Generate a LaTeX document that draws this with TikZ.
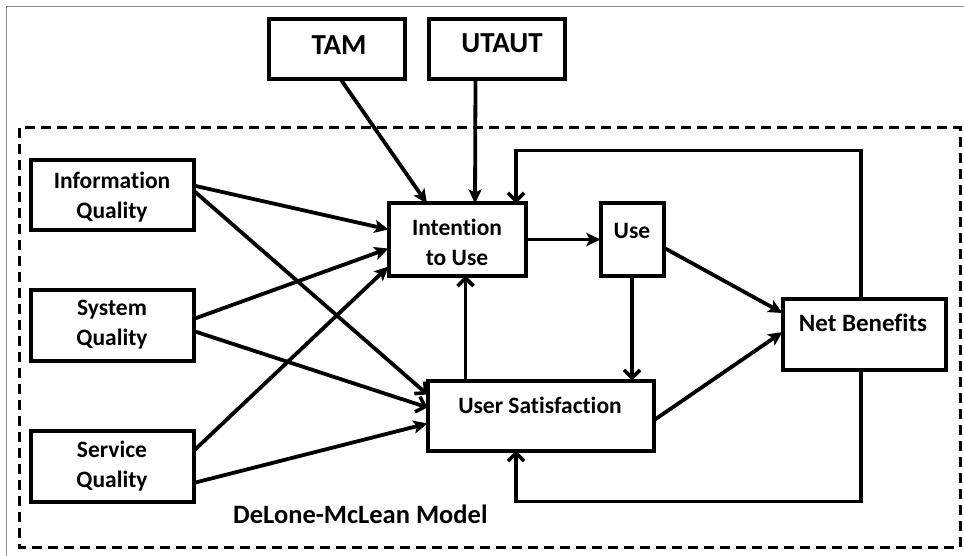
\documentclass[tikz,border=0pt]{standalone}
\usepackage{fontspec}
\setmainfont{Carlito}[Ligatures=NoCommon]
\usetikzlibrary{arrows.meta,calc}
\begin{document}
\begin{tikzpicture}[x=1pt,y=-1pt,
  box/.style={draw=black,line width=4pt,rectangle,inner sep=0pt,outer sep=0pt},
  lbl/.style={font=\bfseries\fontsize{23.5}{30}\selectfont,align=center,inner sep=0pt},
  big/.style={font=\bfseries\fontsize{29}{32}\selectfont},
  fa/.style={line width=3.8pt,-{Stealth[length=14pt,width=13pt,inset=3pt]}},
  oa/.style={line width=3.8pt,-{Straight Barb[length=8pt,width=16pt,line width=3.6pt]}},
  frame/.style={draw=black!45,line width=1.4pt}]
\useasboundingbox (0,0) rectangle (964,556);
\fill[white] (0,0) rectangle (964,556);
\draw[frame] (6.5,556) -- (6.5,6.5) -- (964,6.5);
\draw[line width=3pt,dash pattern=on 10pt off 6pt] (19,128) rectangle (960,547);
% boxes
\node[box,minimum width=136pt,minimum height=60pt] (tam) at (336.5,49) {};
\node[lbl,big] (tamt) at (339,45) {TAM};
\node[box,minimum width=136pt,minimum height=60pt] (utaut) at (496.5,49) {};
\node[lbl,big] (utautt) at (502,43) {UTAUT};
\node[box,minimum width=163pt,minimum height=70pt] (info) at (112,195.5) {};
\node[lbl] (infot) at (112,197) {Information\\Quality};
\node[box,minimum width=163pt,minimum height=71pt] (sys) at (112,325) {};
\node[lbl] (syst) at (112,325) {System\\Quality};
\node[box,minimum width=163pt,minimum height=71pt] (serv) at (112,466) {};
\node[lbl] (servt) at (112,466) {Service\\Quality};
\node[box,minimum width=137pt,minimum height=72pt] (int) at (457,239.5) {};
\node[lbl] (intt) at (457,242) {Intention\\to Use};
\node[box,minimum width=63pt,minimum height=72pt] (use) at (632,239.5) {};
\node[lbl] (uset) at (632,231) {Use};
\node[box,minimum width=226pt,minimum height=70pt] (us) at (540.5,415.5) {};
\node[lbl] (ust) at (540,405) {User Satisfaction};
\node[box,minimum width=163pt,minimum height=71pt] (nb) at (864,334) {};
\node[lbl,font=\bfseries\fontsize{25}{30}\selectfont] (nbt) at (863,323) {Net Benefits};
\node[lbl,anchor=west,font=\bfseries\fontsize{26.5}{30}\selectfont] (dm) at (233,514) {DeLone-McLean Model};
% arrows
\draw[fa] ($(tam.south)+(4,0)$) -- ($(int.north)+(-30,0)$);
\draw[fa] ($(utaut.south)+(-21,0)$) -- ($(int.north)+(18,0)$);
\draw[fa] ($(info.east)+(0,-10)$) -- ($(int.west)+(0,-10)$);
\draw[oa] ($(info.east)+(0,-5)$) -- ($(us.west)+(0,-21)$);
\draw[fa] ($(sys.east)+(0,-6)$) -- ($(int.west)+(0,9)$);
\draw[oa] ($(sys.east)+(0,6)$) -- ($(us.west)+(0,-8)$);
\draw[fa] ($(serv.east)+(0,-15)$) -- ($(int.west)+(0,27)$);
\draw[fa] ($(serv.east)+(0,17)$) -- ($(us.west)+(0,8)$);
\draw[fa] (int.east) -- (use.west);
\draw[oa] ($(us.north)+(-75,0)$) -- ($(int.south)+(8.5,0)$);
\draw[oa] (use.south) -- (us.north -| use.south);
\draw[fa] ($(use.east)+(0,8)$) -- ($(nb.west)+(0,-21)$);
\draw[fa] ($(us.east)+(0,5)$) -- ($(nb.west)+(0,-2)$);
\draw[oa] ($(nb.north)+(-3,0)$) -- ++(0,-148) -| ($(int.north)+(59,0)$);
\draw[oa] ($(nb.south)+(-3,0)$) -- ++(0,132) -| ($(us.south)+(-24.5,0)$);
\end{tikzpicture}
\end{document}
